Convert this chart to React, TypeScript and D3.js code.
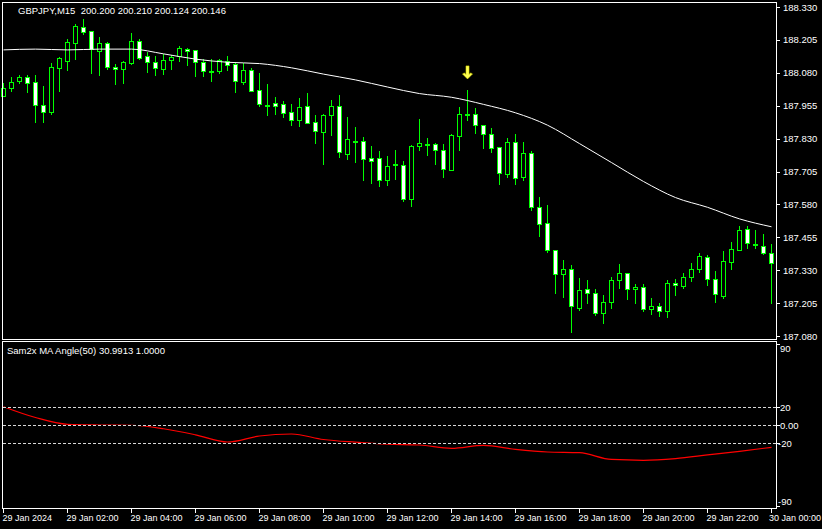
import React, { useEffect } from "react";
import * as d3 from "d3";

// GBPJPY M15, 29 Jan 2024 00:00 .. 30 Jan 00:00 (97 bars)
const opens = [
  187.993, 188.023, 188.05, 188.064, 188.044, 187.958, 187.932, 188.099, 188.126, 188.194,
  188.255, 188.238, 188.164, 188.192, 188.101, 188.093, 188.118, 188.2, 188.143, 188.12,
  188.096, 188.13, 188.144, 188.172, 188.167, 188.121, 188.088, 188.088, 188.124, 188.113,
  188.046, 188.09, 188.013, 187.959, 187.964, 187.96, 187.93, 187.902, 187.953, 187.892,
  187.856, 187.919, 187.953, 187.773, 187.821, 187.82, 187.755, 187.755, 187.672, 187.732,
  187.728, 187.599, 187.801, 187.811, 187.808, 187.785, 187.712, 187.839, 187.922, 187.922,
  187.881, 187.846, 187.797, 187.694, 187.816, 187.683, 187.774, 187.569, 187.508, 187.405,
  187.314, 187.333, 187.187, 187.257, 187.242, 187.166, 187.208, 187.291, 187.318, 187.257,
  187.265, 187.181, 187.193, 187.174, 187.28, 187.271, 187.303, 187.333, 187.379, 187.295,
  187.233, 187.362, 187.405, 187.485, 187.431, 187.421, 187.394,
];
const highs = [
  188.04, 188.064, 188.072, 188.072, 188.072, 188.031, 188.116, 188.139, 188.208, 188.265,
  188.284, 188.238, 188.215, 188.196, 188.112, 188.125, 188.23, 188.207, 188.16, 188.145,
  188.151, 188.148, 188.183, 188.174, 188.167, 188.131, 188.131, 188.134, 188.144, 188.118,
  188.118, 188.097, 188.079, 188.037, 187.988, 187.973, 187.961, 187.983, 188.002, 187.92,
  187.925, 187.977, 187.996, 187.912, 187.874, 187.836, 187.802, 187.783, 187.763, 187.787,
  187.745, 187.806, 187.904, 187.832, 187.813, 187.809, 187.846, 187.949, 188.015, 187.945,
  187.881, 187.869, 187.797, 187.831, 187.847, 187.817, 187.782, 187.608, 187.577, 187.405,
  187.369, 187.35, 187.3, 187.293, 187.258, 187.236, 187.304, 187.353, 187.318, 187.276,
  187.277, 187.224, 187.204, 187.293, 187.298, 187.318, 187.356, 187.394, 187.389, 187.326,
  187.403, 187.437, 187.497, 187.497, 187.483, 187.467, 187.428,
];
const lows = [
  187.992, 188.011, 188.04, 188.006, 187.894, 187.894, 187.925, 188.012, 188.091, 188.132,
  188.226, 188.08, 188.072, 188.093, 188.037, 188.041, 188.112, 188.134, 188.082, 188.073,
  188.074, 188.096, 188.126, 188.111, 188.068, 188.068, 188.049, 188.08, 188.091, 188.007,
  188.039, 188.01, 187.954, 187.921, 187.923, 187.912, 187.883, 187.878, 187.89, 187.814,
  187.735, 187.844, 187.761, 187.752, 187.741, 187.673, 187.662, 187.65, 187.655, 187.678,
  187.594, 187.574, 187.787, 187.768, 187.735, 187.684, 187.709, 187.788, 187.901, 187.85,
  187.795, 187.778, 187.656, 187.683, 187.656, 187.672, 187.558, 187.461, 187.4, 187.244,
  187.229, 187.096, 187.179, 187.206, 187.16, 187.128, 187.187, 187.263, 187.221, 187.206,
  187.176, 187.163, 187.156, 187.151, 187.237, 187.263, 187.29, 187.322, 187.275, 187.21,
  187.225, 187.334, 187.405, 187.415, 187.415, 187.39, 187.206,
];
const closes = [
  188.021, 188.044, 188.063, 188.042, 187.956, 187.932, 188.101, 188.135, 188.196, 188.257,
  188.236, 188.169, 188.192, 188.101, 188.093, 188.12, 188.2, 188.137, 188.12, 188.097,
  188.129, 188.141, 188.173, 188.164, 188.12, 188.088, 188.088, 188.128, 188.109, 188.05,
  188.09, 188.012, 187.963, 187.959, 187.955, 187.928, 187.902, 187.949, 187.89, 187.86,
  187.919, 187.953, 187.778, 187.827, 187.821, 187.751, 187.746, 187.672, 187.727, 187.732,
  187.599, 187.801, 187.812, 187.811, 187.785, 187.713, 187.842, 187.922, 187.922, 187.882,
  187.846, 187.793, 187.698, 187.816, 187.679, 187.774, 187.569, 187.504, 187.405, 187.314,
  187.333, 187.193, 187.254, 187.242, 187.166, 187.209, 187.291, 187.318, 187.257, 187.265,
  187.181, 187.194, 187.176, 187.28, 187.272, 187.303, 187.333, 187.383, 187.295, 187.238,
  187.364, 187.409, 187.482, 187.432, 187.431, 187.394, 187.356,
];

// moving average (white line), read every 4th bar
const maIndex = [0, 4, 8, 12, 16, 20, 24, 28, 32, 36, 40, 44, 48, 52, 56, 60, 64, 68, 72, 76, 80, 84, 88, 92, 96];
const maValues = [
  188.167, 188.17, 188.167, 188.17, 188.17, 188.152, 188.132, 188.12, 188.115, 188.099,
  188.075, 188.053, 188.026, 188.001, 187.987, 187.96, 187.928, 187.881, 187.811, 187.739,
  187.667, 187.606, 187.569, 187.525, 187.495,
];

// Sam2x MA Angle(50) subwindow, same bars
const angleValues = [
  20.3, 8.3, 0.8, 0, -0.3, -4.2, -10.9, -18.9, -12.2, -10, -16.1, -19.1, -21.3,
  -22.2, -25.9, -22.6, -27, -30, -30.8, -38.3, -39.2, -37.3, -33.3, -29.2, -24.8,
];

const arrowBars = [58];

const priceTicks = [188.33, 188.205, 188.08, 187.955, 187.83, 187.705, 187.58, 187.455, 187.33, 187.205, 187.08];
const angleLevels = [20, 0, -20];
const angleTicks = [90, 20, 0, -20, -90];
const timeIndex = [0, 8, 16, 24, 32, 40, 48, 56, 64, 72, 80, 88, 96];
const timeLabels = [
  "29 Jan 2024", "29 Jan 02:00", "29 Jan 04:00", "29 Jan 06:00", "29 Jan 08:00", "29 Jan 10:00",
  "29 Jan 12:00", "29 Jan 14:00", "29 Jan 16:00", "29 Jan 18:00", "29 Jan 20:00", "29 Jan 22:00",
  "30 Jan 00:00",
];

const W = 822;
const H = 529;
const FONT = "'Liberation Sans', Arial, sans-serif";
const GREEN = "#00ff00";

const App: React.FC = () => {
  useEffect(() => {
    document.body.style.margin = "0";
    document.body.style.background = "#000";
  }, []);

  const x = d3.scaleLinear().domain([0, 96]).range([3.5, 771.5]);
  const y = d3.scaleLinear().domain([187.08, 188.33]).range([336, 7]);
  const ya = d3.scaleLinear().domain([-20, 20]).range([443, 407]);

  const maLine = d3
    .line<number>()
    .x((_, i) => x(maIndex[i]))
    .y((d) => y(d))
    .curve(d3.curveMonotoneX);

  const angleLine = d3
    .line<number>()
    .x((_, i) => x(maIndex[i]))
    .y((d) => ya(d))
    .curve(d3.curveMonotoneX);

  return (
    <svg width={W} height={H} style={{ display: "block", background: "#000" }} fontFamily={FONT}>
      <rect x={0} y={0} width={W} height={H} fill="#000" />

      {/* main window */}
      <g>
        {opens.map((o, i) => {
          const c = closes[i];
          const cx = x(i);
          const top = Math.round(y(Math.max(o, c)));
          const bot = Math.round(y(Math.min(o, c)));
          const bear = c < o;
          return (
            <g key={i}>
              <line x1={cx} x2={cx} y1={Math.round(y(highs[i]))} y2={Math.round(y(lows[i])) + 1} stroke={GREEN} strokeWidth={1} />
              <rect
                x={cx - 2}
                y={top + 0.5}
                width={4}
                height={Math.max(1, bot - top)}
                fill={bear ? "#ffffff" : "#000000"}
                stroke={GREEN}
                strokeWidth={1}
              />
            </g>
          );
        })}
        <path d={maLine(maValues) || ""} fill="none" stroke="#ffffff" strokeWidth={1} />
        {arrowBars.map((b) => {
          const cx = x(b);
          const tip = y(highs[b]) - 11;
          const d = `M${cx},${tip} L${cx - 5},${tip - 5} L${cx - 3},${tip - 6} L${cx - 1.5},${tip - 4.5} L${cx - 1.5},${tip - 13} L${cx + 1.5},${tip - 13} L${cx + 1.5},${tip - 4.5} L${cx + 3},${tip - 6} L${cx + 5},${tip - 5} Z`;
          return <path key={b} d={d} fill="#ffff55" stroke="#d8d800" strokeWidth={0.6} />;
        })}
        <text x={18} y={14} fill="#ffffff" fontSize={9.5} style={{ whiteSpace: "pre" }}>
          {"GBPJPY,M15  200.200 200.210 200.124 200.146"}
        </text>
      </g>

      {/* price axis */}
      {priceTicks.map((p) => (
        <g key={p}>
          <line x1={777} x2={780} y1={Math.round(y(p)) + 0.5} y2={Math.round(y(p)) + 0.5} stroke="#ffffff" />
          <text x={783} y={y(p) + 3.5} fill="#ffffff" fontSize={9.5}>
            {p.toFixed(3)}
          </text>
        </g>
      ))}

      {/* indicator window */}
      <g>
        <path d={angleLine(angleValues) || ""} fill="none" stroke="#ff0000" strokeWidth={1.2} />
        {angleLevels.map((v) => (
          <g key={v}>
            <line x1={3} x2={776} y1={ya(v) + 0.5} y2={ya(v) + 0.5} stroke="#000" strokeWidth={1} />
            <line x1={3} x2={776} y1={ya(v) + 0.5} y2={ya(v) + 0.5} stroke="#d8d8d8" strokeWidth={1} strokeDasharray="3,2" />
          </g>
        ))}
        <text x={7} y={354} fill="#ffffff" fontSize={9.5}>
          Sam2x MA Angle(50) 30.9913 1.0000
        </text>
        {angleTicks.map((v) => {
          const ty = v === 90 ? 352 : v === -90 ? 505 : ya(v) + 3.5;
          return (
            <g key={v}>
              <line x1={777} x2={780} y1={Math.round(ya(Math.max(-93, Math.min(93, v)))) + 0.5} y2={Math.round(ya(Math.max(-93, Math.min(93, v)))) + 0.5} stroke="#ffffff" />
              <text x={v < 0 ? 778 : 780} y={ty} fill="#ffffff" fontSize={9.5}>
                {v === 0 ? "0.00" : String(v)}
              </text>
            </g>
          );
        })}
      </g>

      {/* frames */}
      <rect x={2.5} y={2.5} width={774} height={337} fill="none" stroke="#ffffff" strokeWidth={1} />
      <rect x={2.5} y={341.5} width={774} height={167} fill="none" stroke="#ffffff" strokeWidth={1} />

      {/* time axis */}
      {timeIndex.map((t, i) => {
        const last = i === timeIndex.length - 1;
        return (
          <g key={t}>
            <line x1={Math.floor(x(t)) + 0.5} x2={Math.floor(x(t)) + 0.5} y1={509} y2={513} stroke="#ffffff" />
            <text
              x={last ? W - 1 : Math.floor(x(t)) - 0.5}
              y={521}
              fill="#ffffff"
              fontSize={9}
              textAnchor={last ? "end" : "start"}
            >
              {timeLabels[i]}
            </text>
          </g>
        );
      })}
    </svg>
  );
};

export default App;
